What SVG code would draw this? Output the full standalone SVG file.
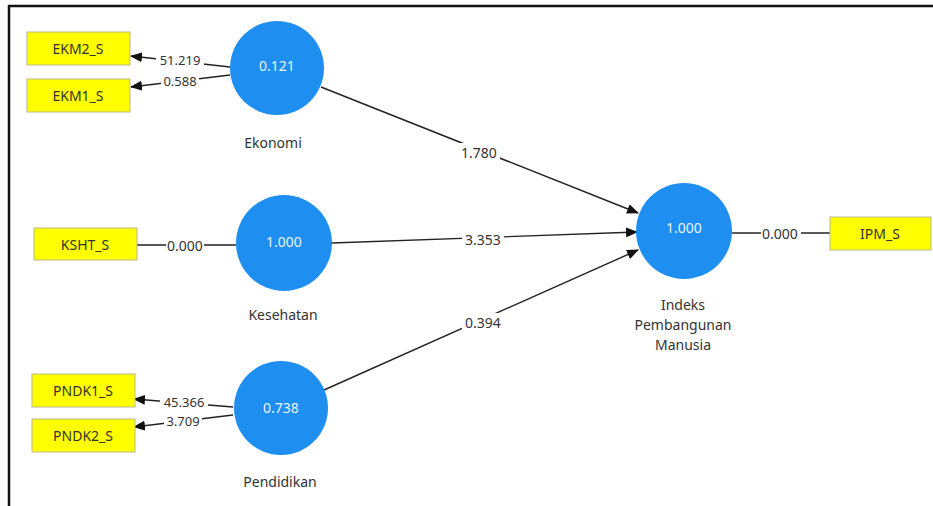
<svg xmlns="http://www.w3.org/2000/svg" width="933" height="506" viewBox="0 0 933 506">
<defs>
<style>
text{font-family:"Noto Sans","Open Sans","Liberation Sans",sans-serif;font-size:14px;fill:#333;}
.circ{fill:#1e8ff0;}
.ctext{fill:#e8f4ff;text-anchor:middle;dominant-baseline:central;}
.ind{fill:#ffff00;stroke:#b8b890;stroke-width:1;}
.itext{text-anchor:middle;dominant-baseline:central;fill:#333;}
.lbl{text-anchor:middle;fill:#333;}
.edge{stroke:#222;stroke-width:1.4;fill:none;}
.ebg{fill:#fff;}
.etext{text-anchor:middle;dominant-baseline:central;fill:#333;}
.small{font-size:13px;}
</style>
<marker id="arr" markerWidth="12" markerHeight="10" refX="11" refY="5" orient="auto" markerUnits="userSpaceOnUse">
<path d="M0,0 L12,5 L0,10 Z" fill="#111"/>
</marker>
</defs>
<rect width="933" height="506" fill="#fff"/>
<path d="M9,506 V6 H933" fill="none" stroke="#111" stroke-width="2.5"/>

<g id="connectors">
<line class="edge" x1="230" y1="67" x2="131" y2="56" marker-end="url(#arr)"/>
<line class="edge" x1="230" y1="75" x2="131" y2="87" marker-end="url(#arr)"/>
<line class="edge" x1="137" y1="245" x2="236" y2="245"/>
<line class="edge" x1="233" y1="407" x2="134" y2="399" marker-end="url(#arr)"/>
<line class="edge" x1="233" y1="415" x2="134" y2="427" marker-end="url(#arr)"/>
<line class="edge" x1="321" y1="87" x2="638" y2="213" marker-end="url(#arr)"/>
<line class="edge" x1="332" y1="243" x2="637" y2="232" marker-end="url(#arr)"/>
<line class="edge" x1="324" y1="390" x2="638" y2="250" marker-end="url(#arr)"/>
<line class="edge" x1="732" y1="233" x2="830" y2="233"/>

<rect class="ebg" x="156" y="53" width="48" height="14"/>
<text class="etext small" x="180" y="60">51.219</text>
<rect class="ebg" x="161" y="74" width="38" height="14"/>
<text class="etext small" x="180" y="81">0.588</text>
<rect class="ebg" x="166" y="238" width="38" height="15"/>
<text class="etext" x="185" y="245">0.000</text>
<rect class="ebg" x="160" y="395" width="48" height="14"/>
<text class="etext small" x="184" y="402">45.366</text>
<rect class="ebg" x="164" y="414" width="38" height="14"/>
<text class="etext small" x="183" y="421">3.709</text>
<rect class="ebg" x="458" y="143" width="42" height="18"/>
<text class="etext" x="479" y="152">1.780</text>
<rect class="ebg" x="462" y="230" width="42" height="17"/>
<text class="etext" x="483" y="239">3.353</text>
<rect class="ebg" x="462" y="313" width="42" height="18"/>
<text class="etext" x="483" y="322">0.394</text>
<rect class="ebg" x="761" y="226" width="40" height="15"/>
<text class="etext" x="780" y="233">0.000</text>
</g>

<g id="EKM2_S"><rect class="ind" x="27" y="32" width="103" height="33"/><text class="itext" x="78" y="48">EKM2_S</text></g>
<g id="EKM1_S"><rect class="ind" x="27" y="79" width="103" height="33"/><text class="itext" x="78" y="95">EKM1_S</text></g>
<g id="KSHT_S"><rect class="ind" x="34" y="228" width="103" height="32"/><text class="itext" x="85" y="244">KSHT_S</text></g>
<g id="PNDK1_S"><rect class="ind" x="32" y="374" width="103" height="33"/><text class="itext" x="83" y="390">PNDK1_S</text></g>
<g id="PNDK2_S"><rect class="ind" x="32" y="419" width="103" height="33"/><text class="itext" x="83" y="435">PNDK2_S</text></g>
<g id="IPM_S"><rect class="ind" x="830" y="217" width="101" height="33"/><text class="itext" x="880" y="233">IPM_S</text></g>

<g id="Ekonomi"><circle class="circ" cx="277" cy="68" r="47"/><text class="ctext" x="277" y="65">0.121</text><text class="lbl" x="273" y="148">Ekonomi</text></g>
<g id="Kesehatan"><circle class="circ" cx="284" cy="243" r="48"/><text class="ctext" x="284" y="241">1.000</text><text class="lbl" x="283" y="320">Kesehatan</text></g>
<g id="Pendidikan"><circle class="circ" cx="281" cy="408" r="47"/><text class="ctext" x="281" y="407">0.738</text><text class="lbl" x="280" y="487">Pendidikan</text></g>
<g id="IPM"><circle class="circ" cx="684" cy="231" r="48"/><text class="ctext" x="684" y="227">1.000</text>
<text class="lbl" x="683" y="310">Indeks</text><text class="lbl" x="683" y="330">Pembangunan</text><text class="lbl" x="683" y="350">Manusia</text></g>
</svg>
